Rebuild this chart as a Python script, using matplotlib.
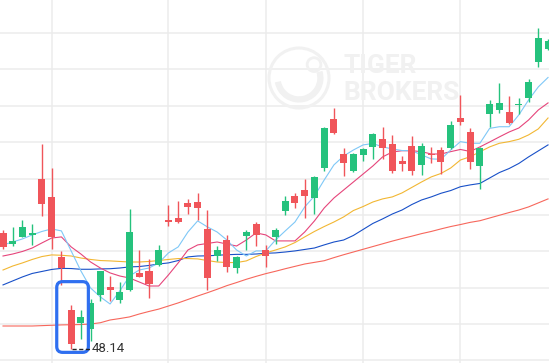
import numpy as np
import matplotlib
matplotlib.use("Agg")
from matplotlib import pyplot as plt
from matplotlib.patches import FancyBboxPatch, Ellipse, Arc

# daily candles, oldest first
opens = [54.52, 53.92, 54.30, 54.41, 57.48, 56.49, 53.20, 50.25, 49.57, 49.23,
         51.11, 51.55, 50.84, 51.37, 52.29, 52.42, 52.73, 55.22, 55.33, 56.16,
         56.23, 54.73, 53.26, 54.12, 52.60, 54.34, 55.00, 53.57, 54.30, 55.73,
         56.54, 56.87, 56.45, 58.06, 60.78, 58.85, 57.93, 58.80, 59.25, 59.68,
         59.40, 58.47, 59.29, 58.25, 58.83, 59.07, 59.18, 60.85, 60.06, 58.21,
         61.07, 61.29, 61.16, 61.55, 61.95, 63.91, 64.63]
highs = [54.67, 54.84, 55.22, 55.00, 59.40, 58.06, 53.53, 50.56, 50.27, 50.88,
         52.42, 52.14, 51.83, 55.83, 53.57, 53.08, 53.85, 56.05, 56.27, 56.38,
         56.72, 55.77, 53.81, 54.40, 53.24, 54.69, 55.11, 53.85, 54.80, 56.54,
         56.72, 57.49, 57.64, 60.34, 61.40, 59.18, 58.91, 59.20, 60.02, 60.34,
         59.90, 58.76, 59.82, 59.46, 59.24, 59.22, 60.68, 62.10, 60.30, 59.25,
         61.82, 62.77, 62.04, 61.91, 62.98, 65.78, 65.15]
lows = [53.63, 53.79, 54.27, 53.85, 55.46, 53.64, 51.65, 48.14, 48.68, 48.58,
        50.78, 50.78, 50.67, 51.33, 52.07, 50.91, 52.69, 54.91, 55.04, 55.55,
        55.22, 51.37, 52.98, 52.38, 52.31, 53.57, 53.81, 52.65, 53.88, 55.50,
        55.88, 55.35, 55.57, 57.93, 59.95, 57.66, 57.88, 58.48, 58.58, 58.58,
        57.81, 57.93, 57.70, 57.70, 58.34, 57.75, 59.13, 60.45, 58.03, 56.94,
        60.34, 61.09, 60.50, 61.05, 61.71, 63.65, 64.55]
closes = [53.75, 54.07, 54.84, 54.49, 56.12, 54.27, 52.58, 48.42, 49.87, 50.64,
          52.42, 51.39, 51.26, 54.58, 52.10, 51.72, 53.57, 55.09, 55.09, 55.95,
          55.90, 52.05, 53.57, 52.65, 53.19, 54.56, 54.41, 53.26, 54.67, 56.27,
          56.17, 56.56, 57.59, 60.28, 60.02, 58.37, 58.85, 59.13, 59.95, 59.16,
          57.93, 58.32, 57.93, 59.29, 58.78, 58.41, 60.45, 60.61, 58.43, 59.20,
          61.60, 61.66, 60.56, 61.58, 62.81, 65.23, 65.07]

# moving averages
ma5 = [53.85, 54.01, 54.18, 54.40, 54.59, 54.73, 54.62, 53.52, 52.42, 51.48,
       50.99, 50.60, 51.32, 52.14, 52.47, 52.58, 52.86, 53.41, 53.74, 54.56,
       55.17, 54.84, 54.56, 54.12, 53.57, 53.24, 53.52, 53.52, 54.12, 54.62,
       55.11, 55.94, 56.54, 57.42, 58.25, 58.74, 59.07, 59.35, 59.43, 59.24,
       59.13, 59.04, 59.03, 58.80, 58.58, 58.56, 59.07, 59.53, 59.44, 59.44,
       60.26, 60.35, 60.35, 61.00, 61.82, 62.54, 63.06]
ma10 = [53.24, 53.35, 53.49, 53.68, 53.96, 54.23, 54.29, 53.74, 53.35, 52.91,
        52.58, 52.31, 52.14, 52.03, 51.81, 51.59, 51.59, 52.20, 52.86, 53.57,
        53.85, 53.93, 54.01, 53.90, 53.79, 54.12, 54.51, 54.40, 54.07, 54.07,
        54.07, 54.56, 55.17, 55.88, 56.43, 56.87, 57.31, 57.75, 58.19, 58.69,
        58.96, 59.03, 59.03, 58.98, 58.85, 58.85, 58.98, 59.10, 58.99, 59.24,
        59.51, 59.79, 60.06, 60.28, 60.72, 61.27, 61.66]
ma20 = [52.47, 52.69, 52.86, 53.05, 53.21, 53.30, 53.28, 53.24, 53.13, 53.05,
        52.99, 52.97, 52.94, 52.91, 52.91, 52.94, 52.99, 53.05, 53.10, 53.10,
        53.08, 52.99, 52.91, 52.88, 52.88, 52.97, 53.21, 53.41, 53.57, 53.74,
        53.98, 54.29, 54.59, 54.86, 55.11, 55.39, 55.74, 55.96, 56.21, 56.38,
        56.49, 56.71, 57.01, 57.31, 57.59, 57.78, 58.08, 58.52, 58.70, 58.97,
        59.24, 59.44, 59.53, 59.66, 59.90, 60.23, 60.83]
ma30 = [51.65, 51.87, 52.09, 52.28, 52.39, 52.50, 52.56, 52.55, 52.51, 52.51,
        52.53, 52.54, 52.58, 52.64, 52.66, 52.72, 52.80, 52.86, 52.99, 53.19,
        53.24, 53.25, 53.28, 53.31, 53.33, 53.33, 53.35, 53.39, 53.41, 53.46,
        53.52, 53.60, 53.68, 53.85, 54.01, 54.12, 54.37, 54.70, 55.03, 55.28,
        55.55, 55.77, 56.07, 56.32, 56.49, 56.69, 56.84, 57.05, 57.15, 57.23,
        57.53, 57.83, 58.05, 58.33, 58.69, 59.02, 59.35]
ma60 = [49.39, 49.39, 49.39, 49.39, 49.41, 49.43, 49.45, 49.46, 49.47, 49.50,
        49.57, 49.72, 49.80, 49.89, 50.05, 50.19, 50.32, 50.49, 50.66, 50.85,
        51.04, 51.22, 51.41, 51.61, 51.78, 51.96, 52.12, 52.27, 52.40, 52.54,
        52.67, 52.80, 52.89, 52.98, 53.15, 53.31, 53.46, 53.61, 53.76, 53.91,
        54.06, 54.20, 54.33, 54.47, 54.59, 54.73, 54.86, 54.97, 55.09, 55.18,
        55.33, 55.48, 55.63, 55.77, 55.94, 56.16, 56.38]

month_starts = [5, 17, 27, 37, 47]  # candles where the vertical grid sits

UP, DOWN = '#25c27d', '#f0555a'

o, h, l, c = map(np.array, (opens, highs, lows, closes))
x = np.arange(len(o))

fig = plt.figure(figsize=(5.49, 3.63), dpi=100)
ax = fig.add_axes([0, 0, 1, 1])
ax.set_xlim(-0.31, 56.1)
ax.set_ylim(47.355, 67.32)

ax.set_yticks(np.arange(47.5, 67, 2))
ax.set_xticks(month_starts)
ax.grid(color='#ececec', lw=1.1)
ax.set_axisbelow(True)
ax.tick_params(length=0, labelleft=False, labelbottom=False)
for s in ax.spines.values():
    s.set_visible(False)

# faint watermark
wm = '#f1f1f1'
ax.add_patch(Ellipse((0.5446, 0.7851), 0.1093, 0.1653, transform=ax.transAxes,
                     fill=False, ec=wm, lw=2.2, zorder=1))
ax.add_patch(Arc((0.5446, 0.7851), 0.078, 0.118, theta1=195, theta2=25,
                 transform=ax.transAxes, ec=wm, lw=4.5, zorder=1))
ax.add_patch(Ellipse((0.572, 0.822), 0.025, 0.038, transform=ax.transAxes,
                     fill=False, ec=wm, lw=2, zorder=1))
fig.text(0.6248, 0.7989, 'TIGER', family='Roboto', weight='bold', size=19,
         color=wm, ha='left', va='baseline', zorder=1)
fig.text(0.6248, 0.7245, 'BROKERS', family='Roboto', weight='bold', size=19,
         color=wm, ha='left', va='baseline', zorder=1)

# moving averages
for vals, col in [(ma60, '#f7675c'), (ma30, '#1850c8'), (ma20, '#f2b733'),
                  (ma10, '#e6457b'), (ma5, '#7fc8f7')]:
    ax.plot(x, vals, color=col, lw=0.8, zorder=2)

# candles
up = c >= o
cols = np.where(up, UP, DOWN)
ax.vlines(x, l, h, colors=cols, lw=1.0, zorder=3)
body = np.maximum(np.abs(c - o), 0.06)
ax.bar(x, body, bottom=np.minimum(o, c), width=0.72, color=cols, zorder=3)

# lowest candle marker
lo = int(np.argmin(l))
ax.add_patch(FancyBboxPatch((lo - 1.48, l[lo] - 0.2), 3.25, 3.89,
                            boxstyle='round,pad=0,rounding_size=0.6',
                            mutation_aspect=0.535, fill=False, ec='#2f6ff0',
                            lw=2.3, zorder=5))
ax.plot([lo + 0.1, lo + 2.0], [l[lo], l[lo]], ls=(0, (3, 1.8)), color='#222222',
        lw=1.0, zorder=6)
ax.text(lo + 2.1, l[lo], f'{l[lo]:.2f}', family='Roboto', size=9.5,
        color='#333333', ha='left', va='center', zorder=6)

fig.savefig('out.png', dpi=100)
